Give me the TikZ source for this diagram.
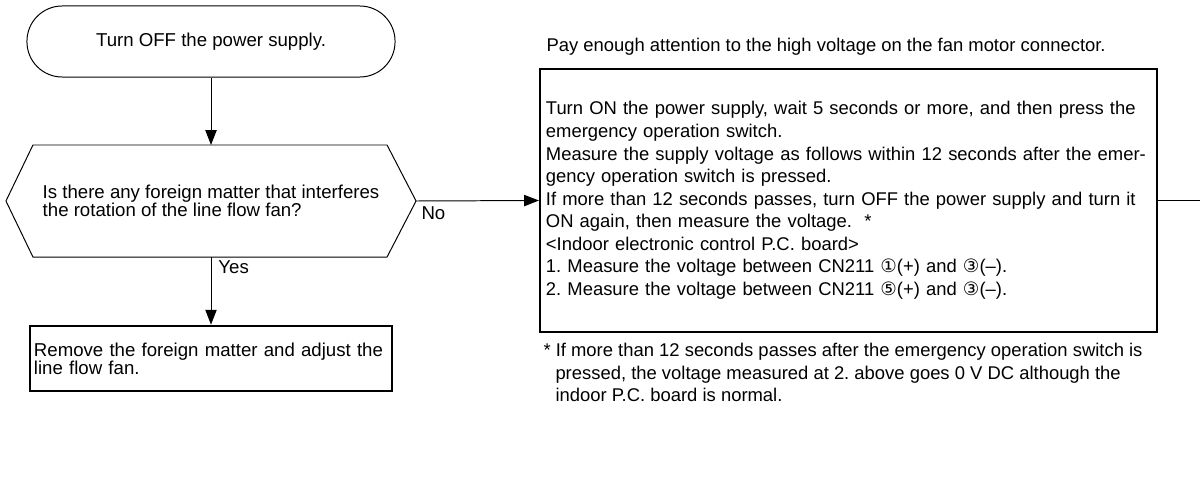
\documentclass[tikz,border=0pt]{standalone}
\usepackage{fontspec}
\setmainfont{Liberation Sans}
\newfontfamily\circfont{DejaVu Sans}
\usetikzlibrary{arrows.meta,positioning,calc}
\newcommand{\cnum}[1]{{\circfont #1}}

\begin{document}
\frenchspacing
\begin{tikzpicture}[x=0.025cm, y=-0.025cm, line width=0.7pt,
  every node/.style={font=\fontsize{13.25}{12.8}\selectfont},
  arr/.style={-{Triangle[length=10.5pt,width=8pt]}},
  termbox/.style={draw, rounded corners=0.88cm, minimum width=9.2cm, minimum height=1.775cm},
  hexbox/.style={inner sep=0pt, minimum width=10.225cm, minimum height=2.775cm, align=left},
  fixbox/.style={draw, line width=1.9pt, minimum width=9.05cm, minimum height=1.625cm,
    inner xsep=0.1cm, text width=8.85cm, align=left},
  measbox/.style={draw, line width=1.4pt, minimum width=15.425cm, minimum height=6.575cm,
    inner xsep=0.15cm, text width=15.125cm, align=left,
    font=\fontsize{13.1}{16.05}\selectfont},
  lbl/.style={inner sep=0pt, anchor=west}]
\useasboundingbox (0,0) rectangle (1200,480);
% Left column
\node[termbox] (off) at (211,41.5) {Turn OFF the power supply.};
\node[hexbox] (chk) at (211,201)
  {Is there any foreign matter that interferes\\the rotation of the line flow fan?};
\draw (chk.west) -- ($(chk.north west)+(27,0)$) -- ($(chk.north east)+(-29,0)$)
  -- (chk.east) -- ($(chk.south east)+(-29,0)$) -- ($(chk.south west)+(27,0)$) -- cycle;
\node[fixbox] (fix) at (211,358.5)
  {Remove the foreign matter and adjust the\\line flow fan.};
\draw[arr] (off.south) -- (chk.north);
\draw[arr] (chk.south) -- (fix.north);
\node[lbl] (yes) at (218,267) {Yes};
% Right column
\node[lbl, font=\fontsize{13.1}{15.85}\selectfont] (warn) at (546,47)
  {Pay enough attention to the high voltage on the fan motor connector.};
\node[measbox] (meas) at (848.5,200.5)
  {Turn ON the power supply, wait 5 seconds or more, and then press the\\
   emergency operation switch.\\
   Measure the supply voltage as follows within 12 seconds after the emer-\\
   gency operation switch is pressed.\\
   If more than 12 seconds passes, turn OFF the power supply and turn it\\
   ON again, then measure the voltage.\ \ *\\
   <Indoor electronic control P.C. board>\\
   1. Measure the voltage between CN211 \cnum{①}(+) and \cnum{③}(–).\\
   2. Measure the voltage between CN211 \cnum{⑤}(+) and \cnum{③}(–).};
\node[lbl, align=left, font=\fontsize{13.1}{16}\selectfont] (foot) at (543,372.5)
  {* If more than 12 seconds passes after the emergency operation switch is\\
   \hspace*{0.3cm}pressed, the voltage measured at 2. above goes 0 V DC although the\\
   \hspace*{0.3cm}indoor P.C. board is normal.};
\coordinate (out) at (1200,200.5);
\draw[arr] (chk.east) -- (meas.west);
\node[lbl] (no) at ($(chk.east)+(5,12)$) {No};
\draw (meas.east) -- (out);
\end{tikzpicture}
\end{document}
